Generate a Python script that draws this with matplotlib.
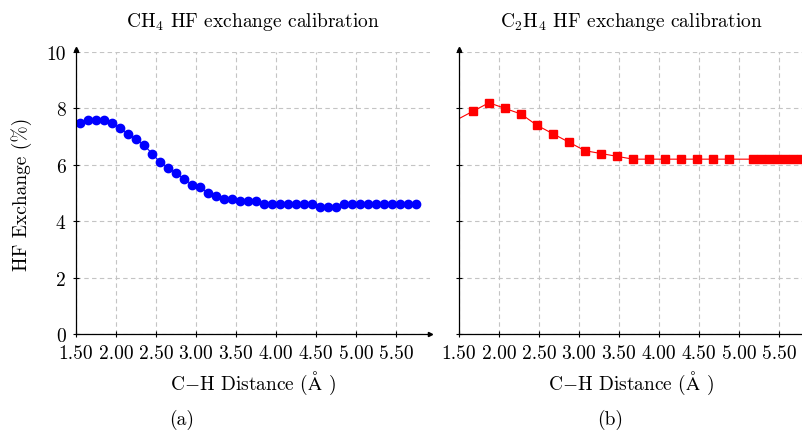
import matplotlib
matplotlib.use('Agg')
import matplotlib.pyplot as plt

plt.rcParams['font.family'] = ['cmr10', 'DejaVu Serif']
plt.rcParams['mathtext.fontset'] = 'cm'
plt.rcParams['axes.unicode_minus'] = False

# CH4 calibration
ch4_x = [1.55, 1.65, 1.75, 1.85, 1.95, 2.05, 2.15, 2.25, 2.35, 2.45,
         2.55, 2.65, 2.75, 2.85, 2.95, 3.05, 3.15, 3.25, 3.35, 3.45,
         3.55, 3.65, 3.75, 3.85, 3.95, 4.05, 4.15, 4.25, 4.35, 4.45,
         4.55, 4.65, 4.75, 4.85, 4.95, 5.05, 5.15, 5.25, 5.35, 5.45,
         5.55, 5.65, 5.75]
ch4_y = [7.5, 7.6, 7.6, 7.6, 7.5, 7.3, 7.1, 6.9, 6.7, 6.4,
         6.1, 5.9, 5.7, 5.5, 5.3, 5.2, 5.0, 4.9, 4.8, 4.8,
         4.7, 4.7, 4.7, 4.6, 4.6, 4.6, 4.6, 4.6, 4.6, 4.6,
         4.5, 4.5, 4.5, 4.6, 4.6, 4.6, 4.6, 4.6, 4.6, 4.6,
         4.6, 4.6, 4.6]

# C2H4 calibration
c2h4_x = [1.275, 1.675, 1.875, 2.075, 2.275, 2.475, 2.675, 2.875, 3.075, 3.275,
          3.475, 3.675, 3.875, 4.075, 4.275, 4.475, 4.675, 4.875,
          5.175, 5.275, 5.375, 5.475, 5.575, 5.675, 5.775]
c2h4_y = [7.3, 7.9, 8.2, 8.0, 7.8, 7.4, 7.1, 6.8, 6.5, 6.4,
          6.3, 6.2, 6.2, 6.2, 6.2, 6.2, 6.2, 6.2,
          6.2, 6.2, 6.2, 6.2, 6.2, 6.2, 6.2]

xticks = [1.5, 2.0, 2.5, 3.0, 3.5, 4.0, 4.5, 5.0, 5.5]
xtick_labels = ['1.50', '2.00', '2.50', '3.00', '3.50', '4.00', '4.50', '5.00', '5.50']
yticks = [0, 2, 4, 6, 8, 10]

fig = plt.figure(figsize=(8.03, 4.31), dpi=100)
ax1 = fig.add_axes([76 / 803, 96 / 431, 354 / 803, 282 / 431])
ax2 = fig.add_axes([459 / 803, 96 / 431, 344 / 803, 282 / 431])

fs = 14


def style(ax, xmax, ylabels, xarrow):
    ax.set_xlim(1.5, xmax)
    ax.set_ylim(0, 10)
    ax.set_xticks(xticks)
    ax.set_xticklabels(xtick_labels, fontsize=fs)
    ax.set_yticks(yticks)
    if ylabels:
        ax.set_yticklabels([str(v) for v in yticks], fontsize=fs)
    else:
        ax.set_yticklabels([])
    ax.tick_params(direction='inout', length=5, width=0.8, pad=5)
    ax.grid(True, color='#c4c4c4', linestyle=(0, (4, 3)), linewidth=0.8)
    ax.set_axisbelow(True)
    for s in ['top', 'right']:
        ax.spines[s].set_visible(False)
    for s in ['left', 'bottom']:
        ax.spines[s].set_linewidth(0.9)
    ax.plot(0, 1.01, '^k', ms=3, transform=ax.transAxes, clip_on=False)
    if xarrow:
        ax.plot(1.0, 0, '>k', ms=3, transform=ax.transAxes, clip_on=False)
    ax.text(0.5, -0.17, r'C$-$H Distance ($\mathrm{\AA}$ )', transform=ax.transAxes,
            ha='center', va='center', fontsize=fs)


style(ax1, 5.925, True, True)
style(ax2, 5.8, False, False)

ax1.plot(ch4_x, ch4_y, '-o', color='blue', lw=0.8, ms=6)
ax2.plot(c2h4_x, c2h4_y, '-s', color='red', lw=0.8, ms=5.5)

ax1.text(0.5, 1.11, r'$\mathrm{CH}_4$ HF exchange calibration', transform=ax1.transAxes,
         ha='center', va='center', fontsize=fs)
ax2.text(0.5, 1.11, r'$\mathrm{C}_2\mathrm{H}_4$ HF exchange calibration', transform=ax2.transAxes,
         ha='center', va='center', fontsize=fs)
ax1.set_ylabel('HF Exchange (%)', fontsize=fs, labelpad=10)

fig.text(182 / 803, 11 / 431, '(a)', ha='center', va='center', fontsize=fs)
fig.text(610 / 803, 11 / 431, '(b)', ha='center', va='center', fontsize=fs)

plt.savefig('out.png', dpi=100)
